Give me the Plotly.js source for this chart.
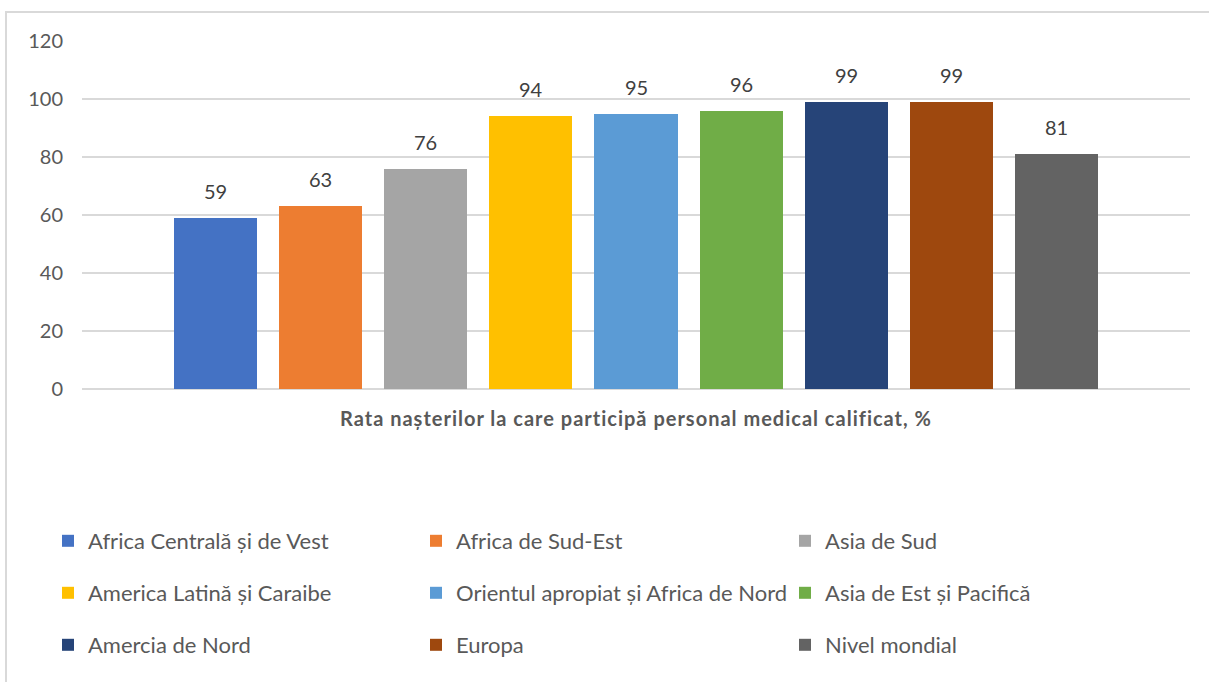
<!DOCTYPE html>
<html>
<head>
<meta charset="utf-8">
<script src="https://cdn.plot.ly/plotly-3.0.1.min.js"></script>
<style>
html,body{margin:0;padding:0;background:#fff;}
#chart{width:1209px;height:682px;}
#chart .xtitle{letter-spacing:1px;}
</style>
</head>
<body>
<div id="chart"></div>
<script>
const categories = [
  "Africa Centrală și de Vest",
  "Africa de Sud-Est",
  "Asia de Sud",
  "America Latină și Caraibe",
  "Orientul apropiat și Africa de Nord",
  "Asia de Est și Pacifică",
  "Amercia de Nord",
  "Europa",
  "Nivel mondial"
];
const values = [59, 63, 76, 94, 95, 96, 99, 99, 81];
const colors = ["#4472C4", "#ED7D31", "#A5A5A5", "#FFC000", "#5B9BD5", "#70AD47", "#264478", "#9E480E", "#636363"];
const yTicks = [0, 20, 40, 60, 80, 100, 120];
const xTitle = "Rata nașterilor la care participă personal medical calificat, %";

const W = 1209, H = 682;
const FONT = "Lato, 'Open Sans', sans-serif";

// legend layout: 3 columns x 3 rows, container pixels (text start x, row centre y)
const legCols = [88, 456, 825];
const legRows = [541, 593, 645];

const traces = categories.map((c, i) => ({
  type: "bar",
  name: c,
  x: [c],
  y: [values[i]],
  marker: {color: colors[i], line: {width: 0}},
  legend: i === 0 ? "legend" : "legend" + (i + 1),
  hoverinfo: "name+y"
}));

const layout = {
  width: W, height: H,
  margin: {l: 82, r: 19, t: 41, b: 293, autoexpand: false},
  paper_bgcolor: "#fff", plot_bgcolor: "#fff",
  font: {family: FONT, color: "#595959"},
  barmode: "stack",
  bargap: 0.21,
  showlegend: true,
  xaxis: {
    type: "category",
    categoryarray: categories,
    range: [-1.266, 9.266],
    showticklabels: false,
    showgrid: false,
    zeroline: false,
    showline: false,
    ticks: "",
    fixedrange: true,
    title: {text: xTitle, font: {family: FONT, size: 20, color: "#595959", weight: "bold"}, standoff: 22}
  },
  yaxis: {
    range: [0, 120],
    tickvals: yTicks,
    ticktext: yTicks.map(String),
    showgrid: true,
    gridcolor: "#D9D9D9",
    gridwidth: 2,
    zeroline: true,
    zerolinecolor: "#D9D9D9",
    zerolinewidth: 2,
    showline: false,
    ticks: "",
    ticklabelstandoff: 18,
    tickfont: {family: FONT, size: 20, color: "#595959"},
    fixedrange: true
  },
  annotations: categories.map((c, i) => ({
    x: c, y: values[i], xref: "x", yref: "y",
    text: String(values[i]), showarrow: false,
    yanchor: "middle", yshift: 27,
    font: {family: FONT, size: 20, color: "#404040"}
  })),
  shapes: [{
    type: "rect", xref: "paper", yref: "paper",
    x0: (6 - 82) / 1108, x1: 1.1,
    y0: -1.0, y1: (389 - 12) / 348,
    line: {color: "#D9D9D9", width: 2}, fillcolor: "rgba(0,0,0,0)", layer: "below"
  }]
};

categories.forEach((c, i) => {
  const key = i === 0 ? "legend" : "legend" + (i + 1);
  const col = i % 3, row = Math.floor(i / 3);
  layout[key] = {
    xref: "container", yref: "container",
    x: (legCols[col] - 40) / W,
    y: 1 - legRows[row] / H,
    xanchor: "left", yanchor: "middle",
    orientation: "h",
    bgcolor: "rgba(0,0,0,0)",
    borderwidth: 0,
    font: {family: FONT, size: 22, color: "#595959"}
  };
});

Plotly.newPlot("chart", traces, layout, {displayModeBar: false, staticPlot: true});
</script>
</body>
</html>
